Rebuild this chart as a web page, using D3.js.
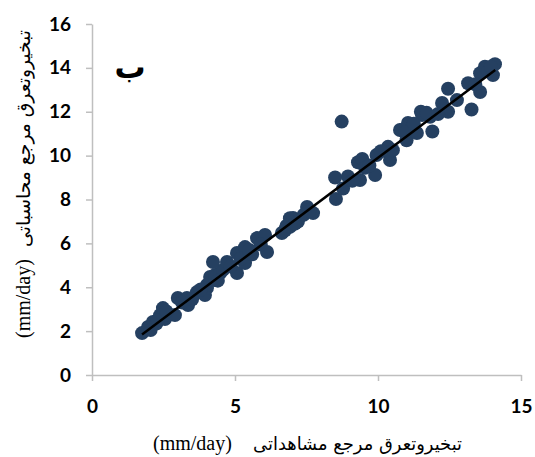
<!DOCTYPE html>
<html>
<head>
<meta charset="utf-8">
<script src="https://cdn.jsdelivr.net/npm/d3@7"></script>
<style>
  body { margin: 0; background: #fff; }
  svg { display: block; }
</style>
</head>
<body>
<div id="chart"></div>
<script>
// observed ET0 (x) vs calculated ET0 (y), mm/day
let obsX = [1.75, 1.96, 2.13, 2.25, 2.38, 2.48, 2.55, 2.66, 2.9, 3.0, 3.32, 3.36, 3.67, 3.95,
  4.02, 4.02, 4.13, 4.3, 4.3, 4.48, 4.58, 4.23, 4.72, 5.07, 5.35, 5.07, 5.35, 5.6, 5.77, 6.05,
  6.12, 6.64, 6.75, 6.92, 6.92, 7.03, 7.2, 7.4, 7.52, 7.73, 8.53, 8.78, 8.5, 8.95, 9.37, 9.3,
  9.45, 9.9, 9.95, 10.42, 10.35, 10.52, 8.73, 10.77, 10.84, 11.0, 11.05, 11.36, 11.2, 11.5,
  11.54, 11.82, 11.9, 12.24, 12.45, 12.45, 12.76, 13.15, 13.27, 13.57, 13.57, 13.74, 14.02, 14.09,
  2.05, 2.3, 2.6, 3.15, 3.5, 3.8, 4.4, 4.85, 5.2, 5.5, 5.9, 6.8, 7.1, 7.6, 9.1, 9.55, 9.7,
  10.1, 10.95, 11.25, 11.7, 12.1, 13.4, 13.85, 13.95]
let calcY = [1.91, 2.19, 2.42, 2.35, 2.73, 3.05, 2.55, 2.73, 2.73, 3.51, 3.51, 3.19, 3.78, 3.65,
  3.97, 4.1, 4.47, 4.33, 4.56, 4.65, 4.79, 5.15, 5.15, 4.65, 5.1, 5.56, 5.83, 5.5, 6.24, 6.38,
  5.61, 6.47, 6.6, 6.75, 7.15, 7.16, 7.0, 7.3, 7.66, 7.38, 8.02, 8.5, 9.0, 9.05, 8.89, 9.7,
  9.85, 9.12, 10.03, 9.8, 10.4, 10.25, 11.55, 11.17, 11.17, 10.7, 11.49, 11.03, 11.3, 12.0,
  11.85, 11.77, 11.1, 12.4, 12.0, 13.05, 12.53, 13.3, 12.1, 12.9, 13.76, 14.05, 13.67, 14.17,
  2.05, 2.5, 2.9, 3.3, 3.45, 3.9, 4.3, 4.95, 5.3, 5.7, 5.95, 6.8, 6.9, 7.5, 8.85, 9.45, 9.55,
  10.2, 11.05, 11.45, 11.95, 11.9, 13.25, 13.85, 14.05]
let trendX = [1.75, 14.1]
let trendY = [1.85, 13.9]
let xTicks = [0, 5, 10, 15]
let yTicks = [0, 2, 4, 6, 8, 10, 12, 14, 16]
let panelLetter = 'ب'
let unitText = '(mm/day)'
let xTitle = 'تبخیروتعرق مرجع مشاهداتی'
let yTitle = 'تبخیروتعرق مرجع محاسباتی'

let width = 535
let height = 457
let svg = d3.select('#chart').append('svg')
  .attr('width', width)
  .attr('height', height)

let x = d3.scaleLinear().domain([0, 15]).range([92, 521])
let y = d3.scaleLinear().domain([0, 16]).range([375, 24])

let xAxis = d3.axisBottom(x).tickValues(xTicks).tickSize(6).tickSizeOuter(0).tickPadding(19)
let yAxis = d3.axisLeft(y).tickValues(yTicks).tickSize(6).tickSizeOuter(0).tickPadding(15)

let gx = svg.append('g').attr('transform', `translate(0, ${y(0)})`).call(xAxis)
let gy = svg.append('g').attr('transform', `translate(${x(0)}, 0)`).call(yAxis)

for (let g of [gx, gy]) {
  g.selectAll('path, line').attr('stroke', '#bfbfbf').attr('stroke-width', 1.5)
  g.selectAll('text')
    .attr('fill', '#000')
    .style('font-family', 'Lato, "Open Sans", sans-serif')
    .style('font-weight', 700)
    .style('font-size', '19px')
}

let pts = obsX.map((v, i) => ({ x: v, y: calcY[i] }))
svg.append('g').selectAll('circle')
  .data(pts)
  .join('circle')
  .attr('cx', d => x(d.x))
  .attr('cy', d => y(d.y))
  .attr('r', 7)
  .attr('fill', '#254061')

svg.append('line')
  .attr('x1', x(trendX[0])).attr('y1', y(trendY[0]))
  .attr('x2', x(trendX[1])).attr('y2', y(trendY[1]))
  .attr('stroke', '#000')
  .attr('stroke-width', 2.5)

svg.append('text')
  .attr('x', 130).attr('y', 78)
  .attr('text-anchor', 'middle')
  .style('font-family', '"DejaVu Sans", sans-serif')
  .style('font-weight', 700)
  .style('font-size', '31px')
  .text(panelLetter)

// fit the persian part of a title into a given length
function fitText(t, len) {
  let w = t.node().getComputedTextLength()
  let fs = parseFloat(t.style('font-size'))
  t.style('font-size', (fs * len / w) + 'px')
}

let latinFont = 'Liberation Serif, DejaVu Serif, serif'
let arabicFont = 'DejaVu Sans, sans-serif'

// x title
svg.append('text')
  .attr('x', 153).attr('y', 450)
  .attr('font-family', latinFont).attr('font-size', 20)
  .text(unitText)
let xt = svg.append('text')
  .attr('x', 462).attr('y', 450)
  .attr('text-anchor', 'end')
  .style('font-family', arabicFont).style('font-size', '17px')
  .text(xTitle)
fitText(xt, 209)

// y title
let yg = svg.append('g').attr('transform', 'translate(30, 0) rotate(-90)')
yg.append('text')
  .attr('x', -338).attr('y', 0)
  .attr('font-family', latinFont).attr('font-size', 20)
  .text(unitText)
let yt = yg.append('text')
  .attr('x', -30).attr('y', 0)
  .attr('text-anchor', 'end')
  .style('font-family', arabicFont).style('font-size', '17px')
  .text(yTitle)
fitText(yt, 217)
</script>
</body>
</html>
